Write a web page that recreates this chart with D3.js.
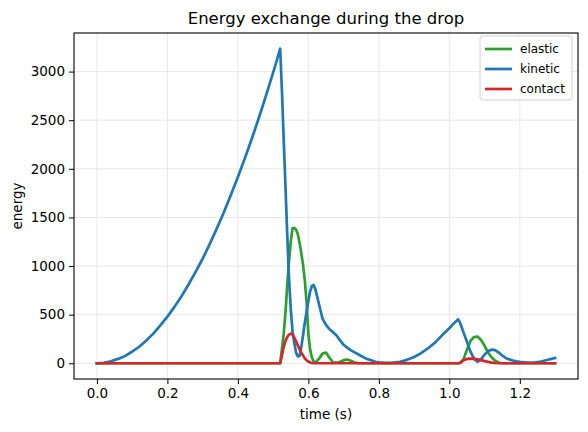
<!DOCTYPE html>
<head>
    <meta charset="utf-8">
    <title>Energy exchange during the drop</title>
    <script src="https://cdn.jsdelivr.net/npm/d3@7"></script>
</head>
<body style="margin:0; background:#fff;">
<div id="container"></div>
<script type="text/javascript">
    // sample times (s) -- finer around the two impacts
    const time = [
        0.00, 0.02, 0.04, 0.06, 0.08, 0.10, 0.12, 0.14, 0.16, 0.18, 0.20, 0.22, 0.24,
        0.26, 0.28, 0.30, 0.32, 0.34, 0.36, 0.38, 0.40, 0.42, 0.44, 0.46, 0.48, 0.50,
        0.51, 0.52,
        0.525, 0.53, 0.535, 0.54, 0.545, 0.55, 0.555, 0.56, 0.565, 0.57,
        0.575, 0.58, 0.585, 0.59, 0.595, 0.60, 0.605, 0.61, 0.615, 0.62,
        0.63, 0.64, 0.65, 0.66, 0.67, 0.68, 0.69, 0.70, 0.71, 0.72, 0.73, 0.74,
        0.75, 0.76, 0.77, 0.78, 0.79, 0.80,
        0.82, 0.84, 0.86, 0.88, 0.90, 0.92, 0.94, 0.96, 0.98, 1.00,
        1.01, 1.02, 1.025, 1.03,
        1.04, 1.05, 1.06, 1.07, 1.08, 1.09, 1.10, 1.11, 1.12, 1.13, 1.14, 1.15,
        1.16, 1.17, 1.18, 1.19, 1.20,
        1.22, 1.24, 1.26, 1.28, 1.30
    ];

    const elastic = [
        0, 0, 0, 0, 0, 0, 0, 0, 0, 0, 0, 0, 0,
        0, 0, 0, 0, 0, 0, 0, 0, 0, 0, 0, 0, 0,
        0, 0,
        150, 300, 520, 800, 1050, 1250, 1390, 1390, 1375, 1330,
        1240, 1130, 1010, 850, 620, 300, 140, 60, 20, 8,
        45, 100, 110, 55, 10, 5, 15, 32, 38, 25, 10, 3,
        0, 0, 0, 0, 0, 0,
        0, 0, 0, 0, 0, 0, 0, 0, 0, 0,
        0, 0, 0, 0,
        40, 140, 230, 270, 275, 240, 180, 110, 60, 25, 8, 0,
        0, 0, 0, 0, 0,
        0, 0, 0, 0, 0
    ];

    const kinetic = [
        0, 5, 20, 45, 75, 120, 170, 235, 305, 390, 480, 580, 690,
        810, 940, 1075, 1225, 1385, 1550, 1730, 1915, 2110, 2315, 2530, 2755, 2990,
        3110, 3235,
        2800, 2300, 1820, 1330, 880, 560, 330, 210, 110, 70,
        75, 170, 290, 420, 530, 640, 740, 795, 805, 760,
        610, 460, 395, 350, 320, 285, 235, 190, 160, 135, 115, 95,
        75, 55, 40, 28, 16, 9,
        5, 6, 16, 35, 64, 105, 155, 215, 290, 360,
        400, 435, 452, 420,
        320, 220, 120, 45, 15, 40, 90, 125, 140, 135, 110, 80,
        55, 40, 28, 20, 14,
        8, 8, 18, 36, 55
    ];

    const contact = [
        0, 0, 0, 0, 0, 0, 0, 0, 0, 0, 0, 0, 0,
        0, 0, 0, 0, 0, 0, 0, 0, 0, 0, 0, 0, 0,
        0, 0,
        80, 170, 230, 270, 295, 305, 295, 265, 225, 185,
        145, 110, 80, 50, 30, 18, 8, 3, 1, 0,
        0, 0, 0, 0, 0, 0, 0, 0, 0, 0, 0, 0,
        0, 0, 0, 0, 0, 0,
        0, 0, 0, 0, 0, 0, 0, 0, 0, 0,
        0, 0, 0, 5,
        30, 45, 48, 45, 40, 32, 22, 14, 7, 3, 0, 0,
        0, 0, 0, 0, 0,
        0, 0, 0, 0, 0
    ];

    const seriesNames = ["elastic", "kinetic", "contact"];
    const seriesColors = ["#2ca02c", "#1f77b4", "#d62728"];
    const xTicks = [0.0, 0.2, 0.4, 0.6, 0.8, 1.0, 1.2];
    const yTicks = [0, 500, 1000, 1500, 2000, 2500, 3000];

    // axes box in pixels
    const margin = {top: 33, right: 10, bottom: 53, left: 74},
        width = 588 - margin.left - margin.right,
        height = 432 - margin.top - margin.bottom;

    const font = "DejaVu Sans, sans-serif";

    const svgRoot = d3.select("#container")
        .append("svg")
        .attr("width", 588)
        .attr("height", 432)
        .style("display", "block");

    const svg = svgRoot.append("g")
        .attr("transform", `translate(${margin.left},${margin.top})`);

    // matplotlib-like 5% padding
    const xMax = d3.max(time), yMax = d3.max(kinetic);
    const x = d3.scaleLinear()
        .domain([-0.05 * xMax, 1.05 * xMax])
        .range([0, width]);
    const y = d3.scaleLinear()
        .domain([-0.05 * yMax, 1.05 * yMax])
        .range([height, 0]);

    // grid
    svg.append("g")
        .selectAll("line")
        .data(xTicks)
        .join("line")
        .attr("x1", d => x(d)).attr("x2", d => x(d))
        .attr("y1", 0).attr("y2", height)
        .style("stroke", "#e5e5e5").style("stroke-width", 0.9);
    svg.append("g")
        .selectAll("line")
        .data(yTicks)
        .join("line")
        .attr("y1", d => y(d)).attr("y2", d => y(d))
        .attr("x1", 0).attr("x2", width)
        .style("stroke", "#e5e5e5").style("stroke-width", 0.9);

    // lines
    const series = [elastic, kinetic, contact];
    const line = d3.line()
        .x((d, i) => x(time[i]))
        .y(d => y(d));
    svg.selectAll("mylines")
        .data(series)
        .join("path")
        .attr("d", d => line(d))
        .style("fill", "none")
        .style("stroke", (d, i) => seriesColors[i])
        .style("stroke-width", 2.7)
        .style("stroke-linejoin", "round")
        .style("stroke-linecap", "square");

    // axes
    const xAxis = svg.append("g")
        .attr("transform", `translate(0,${height})`)
        .call(d3.axisBottom(x).tickValues(xTicks).tickFormat(d3.format(".1f")).tickSize(5).tickPadding(4));
    const yAxis = svg.append("g")
        .call(d3.axisLeft(y).tickValues(yTicks).tickFormat(d3.format("d")).tickSize(5).tickPadding(4));
    [xAxis, yAxis].forEach(a => {
        a.attr("font-size", null).attr("font-family", null);
        a.select(".domain").remove();
        a.selectAll("text").style("font-family", font).style("font-size", "13.5px").attr("fill", "#000");
        a.selectAll("line").attr("stroke", "#000").attr("stroke-width", 1);
    });

    // frame
    svg.append("rect")
        .attr("width", width).attr("height", height)
        .style("fill", "none").style("stroke", "#000").style("stroke-width", 1.1);

    // title and labels
    svgRoot.append("text")
        .attr("x", margin.left + width / 2).attr("y", 24)
        .attr("text-anchor", "middle")
        .style("font-family", font).style("font-size", "16.5px")
        .text("Energy exchange during the drop");
    svgRoot.append("text")
        .attr("x", margin.left + width / 2).attr("y", 419)
        .attr("text-anchor", "middle")
        .style("font-family", font).style("font-size", "13.5px")
        .text("time (s)");
    svgRoot.append("text")
        .attr("transform", `translate(22,${margin.top + height / 2}) rotate(-90)`)
        .attr("text-anchor", "middle")
        .style("font-family", font).style("font-size", "13.5px")
        .text("energy");

    // legend
    const legend = svg.append("g")
        .attr("transform", `translate(${width - 98},3)`);
    legend.append("rect")
        .attr("width", 92).attr("height", 64)
        .attr("rx", 3)
        .style("fill", "#fff").style("fill-opacity", 0.8)
        .style("stroke", "#d0d0d0").style("stroke-width", 1);
    const items = legend.selectAll("myitems")
        .data(seriesNames)
        .join("g")
        .attr("transform", (d, i) => `translate(0,${13 + i * 20})`);
    items.append("line")
        .attr("x1", 5).attr("x2", 32)
        .style("stroke", (d, i) => seriesColors[i])
        .style("stroke-width", 2.7);
    items.append("text")
        .attr("x", 40).attr("y", 4)
        .style("font-family", font).style("font-size", "12px")
        .text(d => d);
</script>
</body>
